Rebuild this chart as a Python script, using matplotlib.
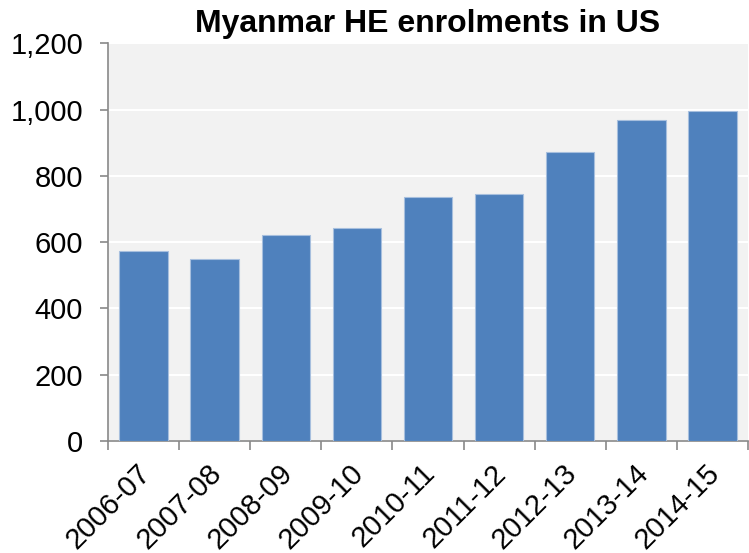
import matplotlib
matplotlib.use("Agg")
import matplotlib.pyplot as plt
from matplotlib.ticker import FuncFormatter, FixedLocator
from matplotlib.transforms import ScaledTranslation
import numpy as np

plt.rcParams['font.family'] = ['Liberation Sans', 'DejaVu Sans']

years = ["2006-07", "2007-08", "2008-09", "2009-10", "2010-11",
         "2011-12", "2012-13", "2013-14", "2014-15"]
enrolments = [573, 549, 621, 644, 735, 744, 872, 970, 996]
y_ticks = [0, 200, 400, 600, 800, 1000, 1200]

fig = plt.figure(figsize=(7.49, 5.53), dpi=100)
ax = fig.add_axes([0.1442, 0.2025, 0.8545, 0.7192])

x = np.arange(len(years))
ax.set_facecolor('#F2F2F2')
ax.bar(x, enrolments, width=0.68, color='#4F81BD', edgecolor='#A7BFDE',
       linewidth=0.8, zorder=3)

ax.set_xlim(-0.5, len(years) - 0.5)
ax.set_ylim(0, 1200)
ax.set_yticks(y_ticks)
ax.yaxis.set_major_formatter(FuncFormatter(lambda v, p: f"{int(v):,}"))
ax.grid(axis='y', color='white', linewidth=1.5, zorder=1)

ax.set_xticks(x)
ax.set_xticklabels(years, rotation=45, ha='right', va='top',
                   rotation_mode='anchor', fontsize=21)
ax.tick_params(axis='x', which='major', length=0, pad=13)
shift = ScaledTranslation(-0.075, 0, fig.dpi_scale_trans)
for lab in ax.get_xticklabels():
    lab.set_transform(lab.get_transform() + shift)
ax.xaxis.set_minor_locator(FixedLocator(np.arange(-0.5, len(years), 1.0)))
ax.tick_params(axis='x', which='minor', length=6.5, color='#898989', width=1.2)
ax.tick_params(axis='y', length=6, color='#898989', width=1.2, labelsize=21, pad=12)

for s in ['top', 'right']:
    ax.spines[s].set_visible(False)
for s in ['left', 'bottom']:
    ax.spines[s].set_color('#898989')
    ax.spines[s].set_linewidth(1.2)

ax.set_title("Myanmar HE enrolments in US", fontsize=23, fontweight='bold', pad=8)

fig.savefig("out.png", dpi=100)
